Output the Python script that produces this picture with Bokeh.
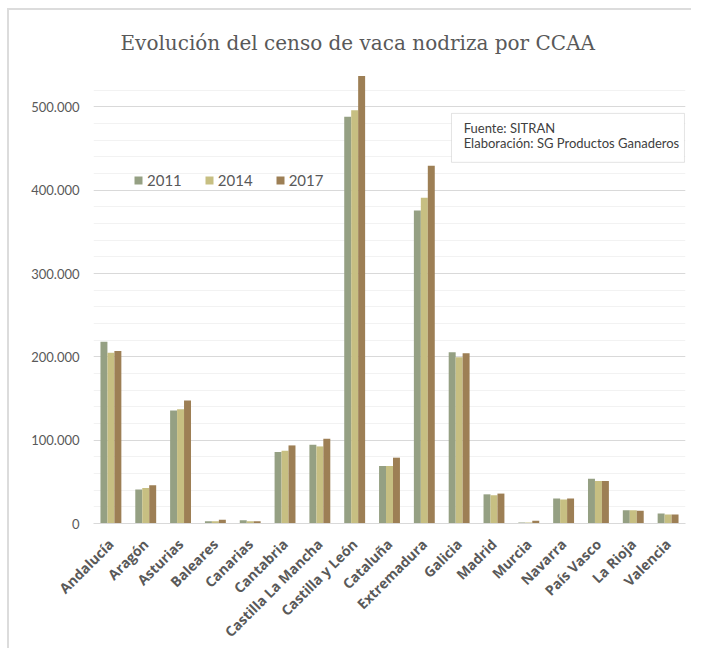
import math
from bokeh.plotting import figure
from bokeh.models import (FactorRange, Range1d, FixedTicker, Legend, LegendItem,
                          Label, Title, ColumnDataSource, BoxAnnotation)
from bokeh.transform import dodge
from bokeh.embed import file_html
from bokeh.resources import INLINE

regions = ["Andalucía", "Aragón", "Asturias", "Baleares", "Canarias", "Cantabria",
           "Castilla La Mancha", "Castilla y León", "Cataluña", "Extremadura", "Galicia",
           "Madrid", "Murcia", "Navarra", "País Vasco", "La Rioja", "Valencia"]
v2011 = [218000, 40700, 135500, 2800, 4000, 85800, 94500, 488000, 69000, 375600,
         205400, 35000, 1200, 29900, 53800, 16000, 12000]
v2014 = [205000, 42700, 137000, 2800, 2800, 87300, 92500, 496000, 69000, 390800,
         199400, 33900, 1200, 28700, 51000, 16000, 10800]
v2017 = [207000, 45800, 147500, 4400, 2800, 93700, 101700, 537000, 79000, 429400,
         204200, 35900, 3200, 29900, 51000, 15200, 10800]
years = ["2011", "2014", "2017"]
yticks = [0, 100000, 200000, 300000, 400000, 500000]
ytick_labels = ["0", "100.000", "200.000", "300.000", "400.000", "500.000"]
title_text = "Evolución del censo de vaca nodriza por CCAA"
note_lines = ["Fuente: SITRAN", "Elaboración: SG Productos Ganaderos"]

colors = ["#95A083", "#C7BF82", "#9D7F55"]

source = ColumnDataSource(data=dict(region=regions, y2011=v2011, y2014=v2014, y2017=v2017))

p = figure(width=684, height=640, x_range=FactorRange(*regions), y_range=Range1d(0, 540000),
           output_backend="svg", toolbar_location=None, title=None,
           min_border_left=84, min_border_right=8, min_border_top=63, min_border_bottom=126)
p.styles = {"margin-left": "7px", "margin-top": "8px",
            "border-left": "2px solid #dcdcdc", "border-top": "2px solid #dcdcdc"}
p.outline_line_color = None
p.background_fill_color = "white"
p.border_fill_color = "white"

cols = ["y2011", "y2014", "y2017"]
offsets = [-0.2, 0.0, 0.2]
renderers = []
for c, off, col in zip(cols, offsets, colors):
    r = p.vbar(x=dodge("region", off, range=p.x_range), top=c, width=0.2, source=source,
               fill_color=col, line_color=None)
    renderers.append(r)

legend = Legend(items=[LegendItem(label=y, renderers=[r]) for y, r in zip(years, renderers)],
                orientation="horizontal", location=(40, 334),
                padding=0, margin=0, spacing=22, label_standoff=4,
                glyph_width=10, glyph_height=10,
                label_text_font="Lato", label_text_font_size="15px",
                label_text_color="#595959",
                background_fill_alpha=0, border_line_color=None)
p.add_layout(legend)

p.yaxis.ticker = FixedTicker(ticks=yticks, minor_ticks=list(range(0, 540001, 20000)))
p.yaxis.major_label_overrides = {t: l for t, l in zip(yticks, ytick_labels)}
p.yaxis.axis_line_color = None
p.yaxis.major_tick_line_color = None
p.yaxis.minor_tick_line_color = None
p.yaxis.major_label_text_font = "Lato"
p.yaxis.major_label_text_font_size = "13px"
p.yaxis.major_label_text_color = "#595959"
p.yaxis.major_label_standoff = 8

p.xaxis.axis_line_color = "#d9d9d9"
p.xaxis.major_tick_line_color = None
p.xaxis.minor_tick_line_color = None
p.xaxis.major_label_orientation = math.pi / 4
p.xaxis.major_label_text_font = "Open Sans"
p.xaxis.major_label_text_font_style = "bold"
p.xaxis.major_label_text_font_size = "14px"
p.xaxis.major_label_text_color = "#595959"
p.xaxis.major_label_standoff = 12

p.xgrid.grid_line_color = None
p.ygrid.grid_line_color = "#d9d9d9"
p.ygrid.minor_grid_line_color = "#f2f2f2"

p.add_layout(Title(text=title_text, align="left", offset=27, standoff=37,
                   text_font="DejaVu Serif", text_font_size="20px",
                   text_font_style="normal", text_color="#595959"), "above")

# source note box (annotation, placed in plot coordinates)
p.add_layout(BoxAnnotation(left=10.28, right=16.97, top=492100, bottom=433400,
                           fill_color="white", fill_alpha=1.0,
                           line_color="#a6a6a6", line_width=1))
for txt, yy in zip(note_lines, [474100, 456200]):
    p.add_layout(Label(x=10.63, y=yy, text=txt, anchor="center_left",
                       text_font="Lato", text_font_size="13px", text_color="#404040"))

open("out.html", "w").write(file_html(p, INLINE))
